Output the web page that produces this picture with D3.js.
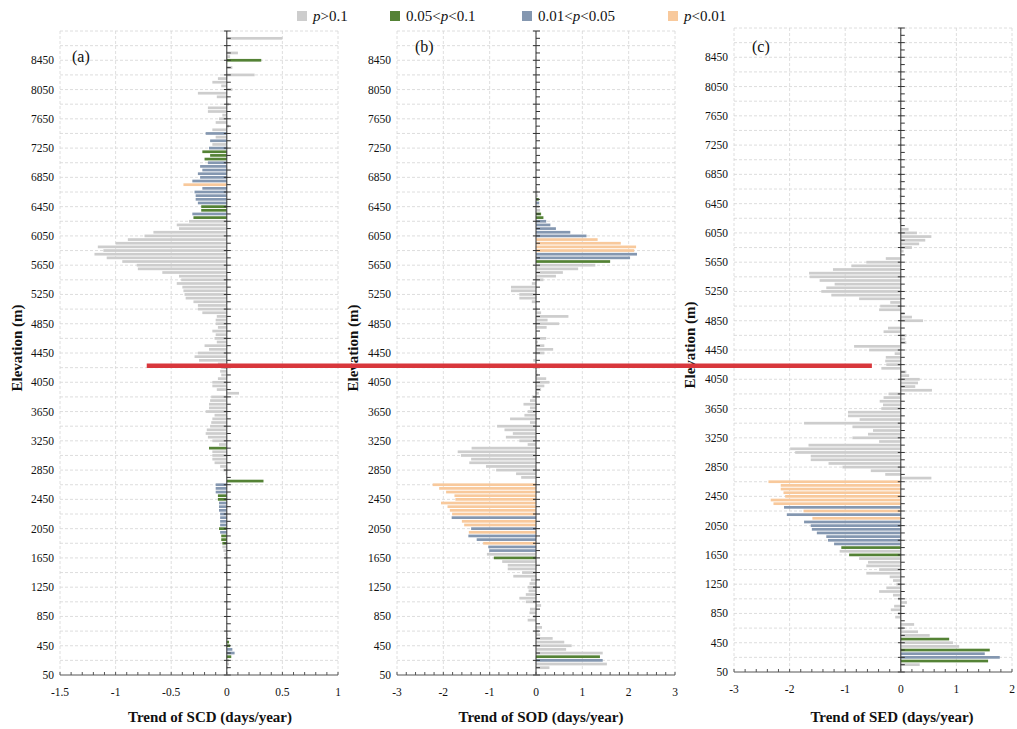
<!DOCTYPE html>
<html><head><meta charset="utf-8">
<script src="https://cdn.jsdelivr.net/npm/d3@7"></script>
<style>
body{margin:0;background:#fff}
svg{display:block}
</style>
</head><body>
<svg id="chart" width="1017" height="729" font-family="'Liberation Serif', 'Times New Roman', Times, serif"></svg>
<script>
// ---------------- DATA ----------------
const elevations = [
8800,8750,8700,8650,8600,8550,8500,8450,8400,8350,
8300,8250,8200,8150,8100,8050,8000,7950,7900,7850,
7800,7750,7700,7650,7600,7550,7500,7450,7400,7350,
7300,7250,7200,7150,7100,7050,7000,6950,6900,6850,
6800,6750,6700,6650,6600,6550,6500,6450,6400,6350,
6300,6250,6200,6150,6100,6050,6000,5950,5900,5850,
5800,5750,5700,5650,5600,5550,5500,5450,5400,5350,
5300,5250,5200,5150,5100,5050,5000,4950,4900,4850,
4800,4750,4700,4650,4600,4550,4500,4450,4400,4350,
4300,4250,4200,4150,4100,4050,4000,3950,3900,3850,
3800,3750,3700,3650,3600,3550,3500,3450,3400,3350,
3300,3250,3200,3150,3100,3050,3000,2950,2900,2850,
2800,2750,2700,2650,2600,2550,2500,2450,2400,2350,
2300,2250,2200,2150,2100,2050,2000,1950,1900,1850,
1800,1750,1700,1650,1600,1550,1500,1450,1400,1350,
1300,1250,1200,1150,1100,1050,1000,950,900,850,
800,750,700,650,600,550,500,450,400,350,
300,250,200,150,100];

// significance class: 0 = p>0.1, 1 = 0.05<p<0.1, 2 = 0.01<p<0.05, 3 = p<0.01
const scdValues = [
0,0.50,0,0,0,0.10,0.03,0.31,0,0.05,
0,0.25,-0.08,-0.13,-0.05,0.05,-0.26,-0.09,0,0.02,
-0.17,-0.17,-0.04,-0.07,-0.10,0.02,-0.13,-0.19,-0.10,-0.15,
-0.13,-0.16,-0.22,-0.15,-0.20,-0.17,-0.24,-0.22,-0.26,-0.24,
-0.31,-0.39,-0.22,-0.29,-0.28,-0.28,-0.26,-0.23,-0.23,-0.31,
-0.30,-0.34,-0.45,-0.43,-0.66,-0.74,-0.89,-1.00,-1.16,-1.11,
-1.19,-1.08,-0.94,-0.81,-0.80,-0.58,-0.43,-0.41,-0.45,-0.40,
-0.39,-0.38,-0.37,-0.30,-0.26,-0.26,-0.22,-0.09,-0.10,-0.10,
-0.08,-0.13,-0.10,-0.11,-0.09,-0.20,-0.16,-0.26,-0.29,-0.25,
-0.08,-0.05,-0.06,-0.05,-0.08,-0.13,-0.13,-0.09,0.11,-0.14,
-0.15,-0.16,-0.16,-0.19,-0.11,-0.13,-0.14,-0.15,-0.18,-0.19,
-0.17,-0.13,-0.07,-0.16,-0.13,-0.13,-0.13,-0.11,-0.06,-0.03,
-0.01,0,0.33,-0.10,-0.10,-0.10,-0.08,-0.08,-0.07,-0.07,
-0.07,-0.06,-0.06,-0.06,-0.06,-0.07,-0.06,-0.05,-0.05,-0.04,
-0.04,-0.03,-0.02,-0.02,-0.01,-0.01,-0.01,-0.01,0,0,
0,0,0,0,0,0,0,0,0,0,
0,0,0,0,0.01,0.01,0.02,0.03,0.05,0.07,
0.04,0.02,0.02,0.01,0];
const scdSig = [
0,0,0,0,0,0,0,1,0,0,
0,0,0,0,0,0,0,0,0,0,
0,0,0,0,0,0,0,2,0,2,
0,2,1,1,1,2,2,2,2,2,
2,3,2,2,2,2,2,1,1,2,
1,0,0,0,0,0,0,0,0,0,
0,0,0,0,0,0,0,0,0,0,
0,0,0,0,0,0,0,0,0,0,
0,0,0,0,0,0,0,0,0,0,
0,0,0,0,0,0,0,0,0,0,
0,0,0,0,0,0,0,0,0,0,
0,0,0,1,0,0,0,0,0,0,
0,0,1,2,2,2,1,1,2,2,
2,2,2,2,2,1,2,1,1,1,
0,0,0,0,0,0,0,0,0,0,
0,0,0,0,0,0,0,0,0,0,
0,0,0,0,0,0,1,1,2,2,
1,0,0,0,0];

const sodValues = [
0,0,0,0,0,0,0,0,0,0,
0,0,0,0,0,0,0,0,0,0,
0,0,0,0,0,0,0,0,0,0,
0,0,0,0,0,0,0,0,0,0.01,
0.01,0.01,0.02,0.04,0.04,0.06,0.07,0.07,0.09,0.11,
0.16,0.22,0.31,0.43,0.74,1.09,1.33,1.83,2.16,2.12,
2.18,2.03,1.60,1.28,0.91,0.58,0.43,0.16,-0.09,-0.54,
-0.54,-0.36,-0.36,-0.09,0,0.03,0.11,0.70,0.25,0.50,
0.23,0,0.02,0.22,0.04,0.18,0.37,0.18,0,-0.06,
0,0,0.02,0.04,0.22,0.29,0.18,0.11,0.06,-0.09,
-0.13,-0.27,-0.13,-0.18,-0.25,-0.56,-0.13,-0.84,-0.68,-0.50,
-0.65,-0.36,-0.18,-1.39,-1.69,-1.62,-1.40,-1.44,-1.08,-0.86,
-0.43,-0.32,0,-2.23,-2.09,-1.94,-1.76,-1.74,-2.05,-1.91,
-1.86,-1.81,-1.82,-1.60,-1.55,-1.40,-1.45,-1.46,-1.28,-1.14,
-1.03,-1.01,-1.06,-0.91,-0.73,-0.61,-0.61,-0.30,-0.49,-0.11,
-0.14,-0.18,-0.16,-0.22,-0.36,-0.22,0.11,-0.13,-0.14,-0.06,
-0.18,0,0.13,0.06,0.09,0.36,0.61,0.77,0.65,1.44,
1.38,1.44,1.53,0.29,0];
const sodSig = [
0,0,0,0,0,0,0,0,0,0,
0,0,0,0,0,0,0,0,0,0,
0,0,0,0,0,0,0,0,0,0,
0,0,0,0,0,0,0,0,0,0,
0,0,0,0,0,1,2,0,0,1,
1,2,2,2,2,2,3,3,3,3,
2,2,1,0,0,0,0,0,0,0,
0,0,0,0,0,0,0,0,0,0,
0,0,0,0,0,0,0,0,0,0,
0,0,0,0,0,0,0,0,0,0,
0,0,0,0,0,0,0,0,0,0,
0,0,0,0,0,0,0,0,0,0,
0,0,0,3,3,3,3,3,3,3,
3,3,2,3,3,2,3,2,2,3,
2,2,0,1,0,0,0,0,0,0,
0,0,0,0,0,0,0,0,0,0,
0,0,0,0,0,0,0,0,0,0,
1,2,0,0,0];

const sedValues = [
0,0,0,0,0,0,0,0,0,0,
0,0,0,0,0,0,0,0,0,0,
0,0,0,0,0,0,0,0,0,0,
0,0,0,0,0,0,0,0,0,-0.02,
0,-0.02,0,-0.02,0,-0.02,-0.01,-0.02,0,-0.03,
0,-0.03,-0.02,0,0.14,0.29,0.55,0.44,0.33,0.20,
0.05,0,-0.27,-0.62,-0.89,-1.22,-1.65,-1.64,-1.46,-1.19,
-1.34,-1.43,-1.25,-0.75,-0.19,-0.37,-0.39,0.07,0.20,0.40,
0,-0.23,-0.31,0.10,0.08,0.10,-0.84,-0.57,-0.11,-0.27,
-0.28,-0.26,-0.35,0.10,0.15,0.34,0.31,0.26,0.56,-0.22,
-0.31,-0.38,-0.32,-0.35,-0.95,-0.95,-0.74,-1.74,-0.87,-0.50,
-0.59,-0.87,-0.39,-1.66,-1.99,-1.90,-1.62,-1.62,-1.30,-1.05,
-0.54,-0.28,0.55,-2.38,-2.16,-2.16,-2.11,-2.08,-2.34,-2.29,
-2.10,-1.75,-2.05,-1.59,-1.74,-1.62,-1.60,-1.51,-1.34,-1.31,
-1.20,-1.07,-1.10,-0.93,-0.75,-0.59,-0.62,-0.39,-0.62,-0.20,
-0.14,-0.08,-0.26,-0.39,-0.14,-0.05,0.11,-0.12,-0.18,-0.05,
-0.10,0,0.24,0.05,0.31,0.52,0.87,0.94,1.05,1.60,
1.51,1.78,1.57,0.34,0];
const sedSig = [
0,0,0,0,0,0,0,0,0,0,
0,0,0,0,0,0,0,0,0,0,
0,0,0,0,0,0,0,0,0,0,
0,0,0,0,0,0,0,0,0,0,
0,0,0,0,0,0,0,0,0,0,
0,0,0,0,0,0,0,0,0,0,
0,0,0,0,0,0,0,0,0,0,
0,0,0,0,0,0,0,0,0,0,
0,0,0,0,0,0,0,0,0,0,
0,0,0,0,0,0,0,0,0,0,
0,0,0,0,0,0,0,0,0,0,
0,0,0,0,0,0,0,0,0,0,
0,0,0,3,3,3,3,3,3,3,
2,3,2,3,2,2,2,2,2,2,
2,1,0,1,0,0,0,0,0,0,
0,0,0,0,0,0,0,0,0,0,
0,0,0,0,0,0,1,0,0,1,
2,2,1,0,0];

const yTickLabels = [50,450,850,1250,1650,2050,2450,2850,3250,3650,4050,4450,4850,5250,5650,6050,6450,6850,7250,7650,8050,8450];
const scdTicks = [-1.5,-1,-0.5,0,0.5,1];
const sodTicks = [-3,-2,-1,0,1,2,3];
const sedTicks = [-3,-2,-1,0,1,2];
const legendLabels = [["", ">0.1"], ["0.05<", "<0.1"], ["0.01<", "<0.05"], ["", "<0.01"]];

// ---------------- STYLE / LAYOUT ----------------
const FONT = "'Liberation Serif', 'Times New Roman', Times, serif";
const colors = ["#cdcdcd", "#548235", "#8497b0", "#f8c99c"];
const panels = [
  {values: scdValues, sig: scdSig, domain: [-1.5, 1], ticks: scdTicks, minor: 0.1,
   left: 60, right: 338, top: 31, bottom: 675, label: "(a)", lx: 72, ly: 62,
   title: "Trend of SCD (days/year)", tx: 210, ytx: 22, yty: 348},
  {values: sodValues, sig: sodSig, domain: [-3, 3], ticks: sodTicks, minor: 0.2,
   left: 397, right: 675, top: 31, bottom: 675, label: "(b)", lx: 415, ly: 52,
   title: "Trend of SOD (days/year)", tx: 541, ytx: 358, yty: 348},
  {values: sedValues, sig: sedSig, domain: [-3, 2], ticks: sedTicks, minor: 0.2,
   left: 734, right: 1012, top: 28, bottom: 672, label: "(c)", lx: 752, ly: 52,
   title: "Trend of SED (days/year)", tx: 892, ytx: 695, yty: 345}
];

const svg = d3.select("#chart");
const scales = [];

function txt(sel) { return sel.attr("font-family", FONT).attr("fill", "#111"); }

panels.forEach((p, pi) => {
  const x = d3.scaleLinear().domain(p.domain).range([p.left, p.right]);
  const y = d3.scaleLinear().domain([50, 8850]).range([p.bottom, p.top]);
  scales.push({x, y});
  const g = svg.append("g");
  const bh = Math.abs(y(50) - y(100)) * 0.74;

  // grid
  const grid = g.append("g").attr("stroke", "#d6d6d6").attr("stroke-width", 0.8)
    .attr("stroke-dasharray", "3,2").attr("fill", "none");
  grid.selectAll("line.h").data(d3.range(250, 8851, 200)).join("line")
    .attr("x1", p.left).attr("x2", p.right).attr("y1", d => y(d)).attr("y2", d => y(d));
  grid.selectAll("line.v").data(p.ticks).join("line")
    .attr("x1", d => x(d)).attr("x2", d => x(d)).attr("y1", p.top).attr("y2", p.bottom);

  // bars
  const data = elevations.map((e, i) => ({e, v: p.values[i], s: p.sig[i]})).filter(d => d.v !== 0);
  g.append("g").selectAll("rect").data(data).join("rect")
    .attr("x", d => Math.min(x(0), x(d.v)))
    .attr("width", d => Math.abs(x(d.v) - x(0)))
    .attr("y", d => y(d.e) - bh / 2)
    .attr("height", bh)
    .attr("fill", d => colors[d.s]);

  // zero axis with ticks
  const za = g.append("g").attr("stroke", "#333").attr("stroke-width", 1);
  za.append("line").attr("x1", x(0)).attr("x2", x(0)).attr("y1", p.top).attr("y2", p.bottom);
  za.selectAll("line.t").data(d3.range(50, 8851, 100)).join("line")
    .attr("x1", (d, i) => x(0) - (i % 2 === 0 ? 3 : 0)).attr("x2", x(0) + 4)
    .attr("y1", d => y(d)).attr("y2", d => y(d));

  // x axis
  const xa = g.append("g").attr("stroke", "#555").attr("stroke-width", 1);
  xa.append("line").attr("x1", p.left).attr("x2", p.right).attr("y1", p.bottom).attr("y2", p.bottom);
  const nMinor = Math.round((p.domain[1] - p.domain[0]) / p.minor);
  xa.selectAll("line.t").data(d3.range(0, nMinor + 1)).join("line")
    .attr("x1", i => x(p.domain[0] + i * p.minor)).attr("x2", i => x(p.domain[0] + i * p.minor))
    .attr("y1", p.bottom - 3).attr("y2", p.bottom);

  // tick labels
  g.append("g").selectAll("text").data(p.ticks).join("text")
    .call(txt)
    .attr("x", d => x(d)).attr("y", p.bottom + 21).attr("text-anchor", "middle")
    .attr("font-size", 11.5).text(d => String(d));
  g.append("g").selectAll("text").data(yTickLabels).join("text")
    .call(txt)
    .attr("x", p.left - 6).attr("y", d => y(d) + 4).attr("text-anchor", "end")
    .attr("font-size", 11.5).text(d => d);

  // titles
  g.append("text").call(txt).attr("x", p.tx).attr("y", 722)
    .attr("text-anchor", "middle").attr("font-size", 15).attr("font-weight", "bold").text(p.title);
  g.append("text").call(txt).attr("transform", `translate(${p.ytx},${p.yty}) rotate(-90)`)
    .attr("text-anchor", "middle").attr("font-size", 15).attr("font-weight", "bold").text("Elevation (m)");
  g.append("text").call(txt).attr("x", p.lx).attr("y", p.ly).attr("font-size", 16).text(p.label);
});

// legend
const legendX = [297, 390, 522, 668];
const lg = svg.append("g");
legendLabels.forEach((l, i) => {
  lg.append("rect").attr("x", legendX[i]).attr("y", 11).attr("width", 10).attr("height", 10).attr("fill", colors[i]);
  const t = lg.append("text").call(txt).attr("x", legendX[i] + 16).attr("y", 21).attr("font-size", 15);
  t.append("tspan").text(l[0]);
  t.append("tspan").attr("font-style", "italic").text("p");
  t.append("tspan").text(l[1]);
});

// red annotation line across the panels
const redElev = 4275;
svg.append("line")
  .attr("x1", scales[0].x(-0.72)).attr("x2", scales[2].x(-0.52))
  .attr("y1", scales[0].y(redElev)).attr("y2", scales[0].y(redElev))
  .attr("stroke", "#d8373c").attr("stroke-width", 4.5);
</script>
</body></html>
